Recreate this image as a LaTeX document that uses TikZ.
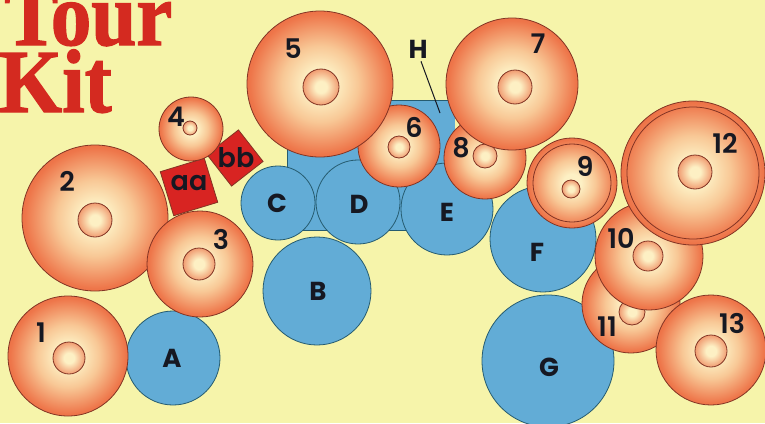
\documentclass[tikz,border=0pt]{standalone}
\usepackage{fontspec}
\setmainfont{Liberation Serif}
\setsansfont{Poppins}
\newfontfamily\titlefont{Liberation Serif Bold}[FakeBold=1.6]
\newfontfamily\numfont{Poppins SemiBold}

\definecolor{paper}{RGB}{246,244,170}
\definecolor{titlered}{RGB}{212,42,32}
\definecolor{ink}{RGB}{22,24,34}
\definecolor{orbcore}{RGB}{253,240,196}
\definecolor{orbglow}{RGB}{248,200,150}
\definecolor{orbmid}{RGB}{238,118,74}
\definecolor{orbrim}{RGB}{224,80,46}
\definecolor{orbedge}{RGB}{130,52,36}
\definecolor{knobrim}{RGB}{234,112,70}
\definecolor{discblue}{RGB}{98,172,214}
\definecolor{discedge}{RGB}{38,92,112}
\definecolor{padred}{RGB}{216,36,34}

\pgfdeclareradialshading{orb}{\pgfpoint{0bp}{0bp}}{color(0bp)=(orbcore); color(5bp)=(orbcore); color(13bp)=(orbglow); color(24bp)=(orbmid); color(34bp)=(orbrim); color(50bp)=(orbrim)}
\pgfdeclareradialshading{knob}{\pgfpoint{0bp}{0bp}}{color(0bp)=(orbcore); color(8bp)=(orbcore); color(34bp)=(knobrim); color(50bp)=(knobrim)}

\tikzset{
  orbstyle/.style={shading=orb,draw=orbedge,line width=0.8pt},
  knobstyle/.style={shading=knob,draw=orbedge,line width=0.8pt},
  discstyle/.style={fill=discblue,draw=discedge,line width=0.8pt},
  pad/.style={fill=padred,draw=orbedge,line width=0.8pt,minimum size=#1,inner sep=0pt},
  lbl/.style={font=\sffamily\bfseries\fontsize{26}{26}\selectfont,text=ink,inner sep=0pt},
  num/.style={font=\numfont\fontsize{27}{27}\selectfont,text=ink,inner sep=0pt},
  titletext/.style={font=\titlefont\fontsize{90}{90}\selectfont,text=titlered,
    inner sep=0pt,anchor=base west,xscale=0.9}
}

\begin{document}
\begin{tikzpicture}[x=1pt,y=-1pt]
  \useasboundingbox (0,0) rectangle (765,423);
  \fill[paper] (0,0) rectangle (765,423);

  % title
  \node[titletext] (tour) at (4,45) {Tour};
  \node[titletext] (kit) at (-1,112) {Kit};

  % blue block behind C, D, E
  \fill[discblue] (287,100) rectangle (455,230);
  \draw[discedge,line width=0.8pt] (455,100) -- (287,100) -- (287,230) -- (455,230);

  % blue discs: name/x/y/r/label x/label y
  \foreach \n/\x/\y/\r/\lx/\ly in {C/278/203/37/277/203, D/358/202/42/359/204,
      E/447/209/46/447/212, B/317/291/54/318/291, F/543/239/53/537/252,
      G/548/361/66/549/367, A/173/358/47/172/358}{
    \draw[discstyle] (\x,\y) circle (\r);
    \node[lbl] (\n) at (\lx,\ly) {\n};
  }

  % red pads
  \node[pad=46pt,rotate=17] (aa) at (189,187) {};
  \node[pad=40pt,rotate=38] (bb) at (235,158) {};
  \node[num] (aatext) at (189,183) {aa};
  \node[num] (bbtext) at (236,158) {bb};

  % orange balls: name/x/y/R/inner x/inner y/inner r/label x/label y
  \foreach \n/\x/\y/\R/\a/\b/\r/\lx/\ly in {
      1/68/356/60/69/358/16/41/333, 2/95/218/73/95/220/17/67/181,
      3/200/264/53/199/264/16/221/239, 4/191/129/32/190/128/7/176/117,
      6/399/146/41/399/147/11/414/127, 5/320/84/73/321/87/18/293/49,
      8/485/158/41/485/156/12/461/148, 7/512/84/66/515/87/17/538/44,
      9/572/183/45/571/189/9/585/166, 11/631/304/49/632/312/13/607/327,
      10/649/256/54/648/256/15/621/238, 12/693/173/72/695/172/17/725/143,
      13/711/350/55/711/351/16/732/323}{
    \shade[orbstyle] (\x,\y) circle (\R);
    \shade[knobstyle] (\a,\b) circle (\r);
    \node[num] (n\n) at (\lx,\ly) {\n};
  }
  % rims on 9 and 12
  \draw[orbedge,line width=0.8pt] (572,183) circle (39);
  \draw[orbedge,line width=0.8pt] (693,173) circle (66);

  % H pointer
  \node[lbl] (H) at (418,49) {H};
  \coordinate (hpt) at (440,113);
  \draw[ink,line width=1pt] ([xshift=3pt,yshift=-3pt]H.south) -- (hpt);
\end{tikzpicture}
\end{document}
